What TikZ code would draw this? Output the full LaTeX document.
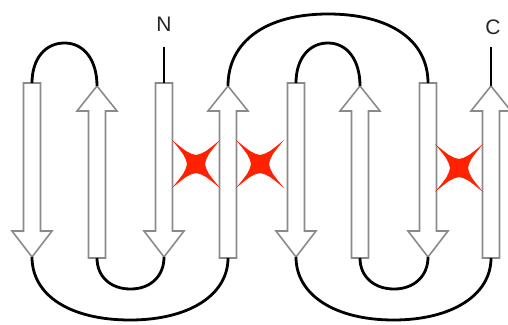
\documentclass[tikz,border=0pt]{standalone}
\usepackage{fontspec}
\setmainfont{Liberation Sans}
\definecolor{xred}{HTML}{FF2200}
\definecolor{strandgray}{HTML}{8A8A8A}
\newcommand\dstrand[2]{%
  \draw[strand] (#2-8.5,83) -- (#2+8.5,83) -- (#2+8.5,231) -- (#2+20,231) -- (#2,257) -- (#2-20,231) -- (#2-8.5,231) -- cycle;
  \coordinate (#1a) at (#2,83);
  \coordinate (#1b) at (#2,257);}
\newcommand\ustrand[2]{%
  \draw[strand] (#2-8.5,258) -- (#2-8.5,111) -- (#2-20,111) -- (#2,86) -- (#2+20,111) -- (#2+8.5,111) -- (#2+8.5,258) -- cycle;
  \coordinate (#1a) at (#2,86);
  \coordinate (#1b) at (#2,258);}
\begin{document}
\begin{tikzpicture}[x=1pt,y=-1pt,
  strand/.style={draw=strandgray, fill=white, line width=1.6pt, line join=miter},
  loopline/.style={draw=black, line width=2.8pt},
  lbl/.style={font=\fontsize{21}{21}\selectfont, text=black!85, inner sep=0pt},
  redx/.pic={\fill[xred] (24,-24) .. controls (8,-11) .. (0,-9) .. controls (-8,-11) .. (-24,-24)
      .. controls (-11,-8) .. (-9,0) .. controls (-11,8) .. (-24,24)
      .. controls (-8,11) .. (0,9) .. controls (8,11) .. (24,24)
      .. controls (11,8) .. (9,0) .. controls (11,-8) .. cycle;}
]
\useasboundingbox (0,0) rectangle (508,324);
% strands
\dstrand{s1}{32}
\ustrand{s2}{97}
\dstrand{s3}{164}
\ustrand{s4}{228}
\dstrand{s5}{296}
\ustrand{s6}{360}
\dstrand{s7}{428}
\ustrand{s8}{491}
% apex coordinates of loops
\coordinate (tA) at (64.5,43);
\coordinate (tB) at (328,14);
\coordinate (tC) at (328,43);
\coordinate (bD) at (130,320);
\coordinate (bE) at (130.5,289);
\coordinate (bF) at (394,289);
\coordinate (bG) at (393.5,320);
\coordinate (Nend) at (164,47);
\coordinate (Cend) at (491,47);
% top loops
\draw[loopline] (s1a) .. controls +(0,-24) and +(-19.5,0) .. (tA) .. controls +(19.5,0) and +(0,-26) .. (s2a);
\draw[loopline] (s4a) .. controls +(0,-44.6) and +(-62,0) .. (tB) .. controls +(62,0) and +(0,-42.8) .. (s7a);
\draw[loopline] (s5a) .. controls +(0,-24) and +(-19.2,0) .. (tC) .. controls +(19.2,0) and +(0,-26) .. (s6a);
% bottom loops
\draw[loopline] (s1b) .. controls +(0,39) and +(-59,0) .. (bD) .. controls +(59,0) and +(0,37) .. (s4b);
\draw[loopline] (s2b) .. controls +(0,18.6) and +(-20,0) .. (bE) .. controls +(20,0) and +(0,19.2) .. (s3b);
\draw[loopline] (s6b) .. controls +(0,18.6) and +(-20,0) .. (bF) .. controls +(20,0) and +(0,19.2) .. (s7b);
\draw[loopline] (s5b) .. controls +(0,38) and +(-58.5,0) .. (bG) .. controls +(58.5,0) and +(0,37) .. (s8b);
% termini
\draw[loopline] (Nend) -- (s3a);
\draw[loopline] (Cend) -- (s8a);
\node[lbl] (N) at (164,24) {N};
\node[lbl] (C) at (493,27) {C};
% red crosses
\pic at (196,164) {redx};
\pic at (260,164) {redx};
\pic at (459,168) {redx};
\end{tikzpicture}
\end{document}
